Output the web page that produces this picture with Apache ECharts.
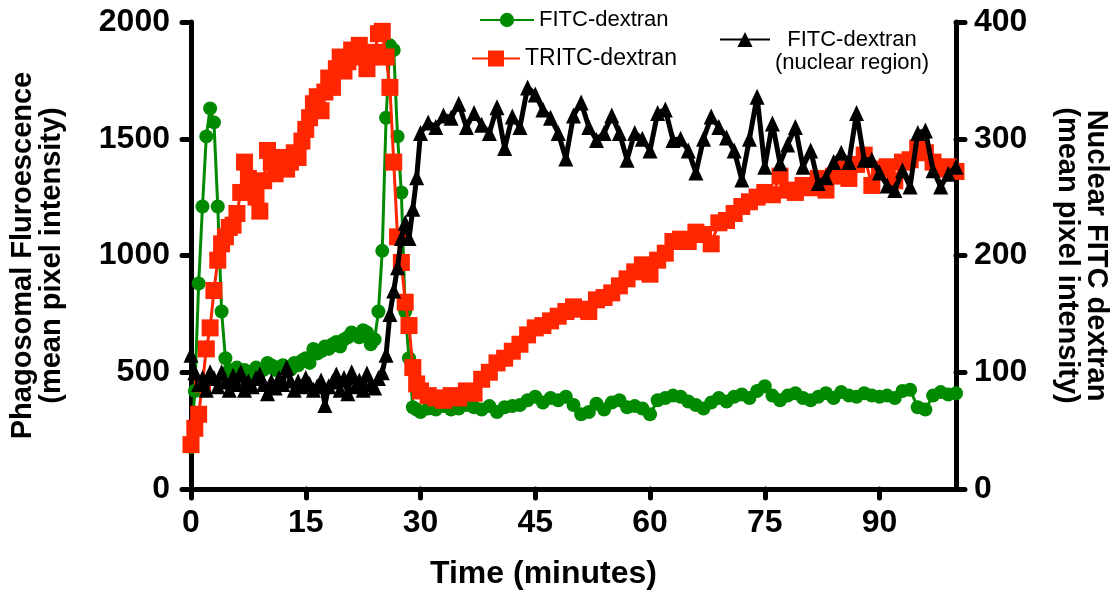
<!DOCTYPE html>
<html><head><meta charset="utf-8">
<script src="https://cdn.jsdelivr.net/npm/echarts@6/dist/echarts.min.js"></script>
<style>html,body{margin:0;padding:0;background:#fff}#c{width:1118px;height:600px}</style>
</head><body><div id="c"></div>
<script>
// Time points (minutes)
const timeMin = [
  0,0.5,1,1.5,2,2.5,3,3.5,4,4.5,
  5,5.5,6,6.5,7,7.5,8,8.5,9,9.5,
  10,10.5,11,11.5,12,12.5,13,13.5,14,14.5,
  15,15.5,16,16.5,17,17.5,18,18.5,19,19.5,
  20,20.5,21,21.5,22,22.5,23,23.5,24,24.5,
  25,25.5,26,26.5,27,27.5,28,28.5,29,29.5,
  30,
  31,32,33,34,35,36,37,38,39,40,
  41,42,43,44,45,46,47,48,49,50,
  51,52,53,54,55,56,57,58,59,60,
  61,62,63,64,65,66,67,68,69,70,
  71,72,73,74,75,76,77,78,79,80,
  81,82,83,84,85,86,87,88,89,90,
  91,92,93,94,95,96,97,98,99,100
];
// FITC-dextran (phagosomal, left axis)
const fitcDextran = [
  180,420,880,1210,1510,1630,1570,1210,760,560,
  510,500,520,490,510,500,490,520,500,510,
  540,530,510,520,530,520,510,540,530,550,
  560,540,600,580,590,610,600,620,630,610,
  640,650,670,660,650,680,670,620,640,760,
  1020,1590,1900,1880,1510,1270,760,560,350,340,
  330,
  345,340,355,340,345,360,350,340,355,330,
  350,355,360,380,395,370,390,380,395,360,
  320,330,365,340,370,380,350,355,345,320,
  380,390,400,395,375,360,345,370,390,375,
  395,405,390,420,440,400,380,400,410,390,
  380,395,410,390,415,400,395,410,400,395,
  400,390,420,425,350,340,400,415,405,410
];
// TRITC-dextran (phagosomal, left axis)
const tritcDextran = [
  190,260,320,450,600,690,850,980,1050,1080,
  1120,1130,1180,1270,1400,1330,1300,1250,1190,1320,
  1450,1400,1350,1410,1420,1370,1400,1440,1420,1490,
  1540,1590,1650,1680,1620,1700,1760,1720,1800,1850,
  1790,1830,1880,1860,1900,1850,1800,1850,1870,1950,
  1960,1850,1720,1400,1080,970,800,700,520,450,
  420,
  400,390,380,400,390,420,410,470,500,540,
  560,590,620,660,690,700,720,740,760,780,
  770,760,810,820,840,870,900,930,960,920,
  980,1010,1060,1070,1060,1100,1090,1050,1140,1150,
  1180,1210,1230,1250,1270,1260,1340,1280,1270,1300,
  1290,1330,1280,1340,1370,1330,1390,1430,1300,1370,
  1380,1320,1400,1410,1460,1440,1400,1370,1380,1360
];
// FITC-dextran, nuclear region (right axis)
const fitcNuclear = [
  115,100,90,95,85,100,95,88,100,92,
  85,97,90,100,85,92,88,95,98,90,
  82,92,87,95,90,104,93,85,92,88,
  95,90,85,88,93,72,88,92,98,85,
  95,82,100,88,93,85,99,90,87,95,
  100,115,150,170,190,215,228,215,240,267,
  305,
  314,310,320,318,330,310,322,312,305,327,
  292,319,310,344,338,325,318,305,283,320,
  331,310,299,305,320,305,282,305,300,290,
  322,325,299,300,290,271,300,319,310,301,
  290,265,300,336,276,313,279,295,310,276,
  290,262,267,280,288,280,322,282,282,271,
  260,256,273,259,305,307,273,259,270,276
];
const xTickValues = [0,15,30,45,60,75,90];
const seriesNames = ['FITC-dextran','TRITC-dextran','FITC-dextran (nuclear region)'];

const FONT = '"Liberation Sans", Arial, Helvetica, sans-serif';
const pair = arr => timeMin.map((t,i)=>[t, arr[i]]);
const plain = v => String(v);
const lineW = {color:'#000', width:5, cap:'round'};
const labelBase = {color:'#000', fontFamily:FONT, fontWeight:'bold', fontSize:32, formatter:plain};

const chart = echarts.init(document.getElementById('c'), null, {renderer:'canvas'});
chart.setOption({
  animation:false,
  backgroundColor:'#fff',
  grid:{left:188, right:160, top:22, bottom:111, containLabel:false},
  legend:[
    {data:[seriesNames[0]], left:474, top:4, itemWidth:54, itemHeight:18, itemGap:0,
     textStyle:{fontFamily:FONT, fontSize:22, color:'#000'}},
    {data:[seriesNames[1]], left:466, top:42, itemWidth:48, itemHeight:20, itemGap:0,
     textStyle:{fontFamily:FONT, fontSize:23, color:'#000'}},
    {data:[seriesNames[2]], left:714, top:24, itemWidth:50, itemHeight:19, itemGap:0,
     formatter:()=>'{a|FITC-dextran}\n{a|(nuclear region)}',
     textStyle:{fontFamily:FONT, fontSize:22, color:'#000', padding:[24,0,0,0],
       rich:{a:{fontFamily:FONT, fontSize:22, color:'#000', align:'center', lineHeight:23}}}}
  ],
  xAxis:{
    type:'value', min:0, max:100, interval:15,
    axisLine:{show:true, lineStyle:lineW},
    axisTick:{show:true, length:9, customValues:xTickValues, lineStyle:lineW},
    axisLabel:Object.assign({}, labelBase, {customValues:xTickValues, margin:18}),
    splitLine:{show:false},
    name:'Time (minutes)', nameLocation:'middle', nameGap:69,
    nameTextStyle:{fontFamily:FONT, fontWeight:'bold', fontSize:32, color:'#000', padding:[0,60,0,0]}
  },
  yAxis:[
    {
      type:'value', min:0, max:2000, interval:500, position:'left',
      axisLine:{show:true, lineStyle:lineW},
      axisTick:{show:true, length:9, lineStyle:lineW},
      axisLabel:Object.assign({}, labelBase, {margin:21}),
      splitLine:{show:false},
      name:'Phagosomal Fluroescence\n(mean pixel intensity)', nameLocation:'middle', nameRotate:90, nameGap:125,
      nameTextStyle:{fontFamily:FONT, fontWeight:'bold', fontSize:29, lineHeight:29, color:'#000'}
    },
    {
      type:'value', min:0, max:400, interval:100, position:'right',
      axisLine:{show:true, lineStyle:lineW},
      axisTick:{show:true, length:9, lineStyle:lineW},
      axisLabel:Object.assign({}, labelBase, {margin:18}),
      splitLine:{show:false},
      name:'Nuclear FITC dextran\n(mean pixel intensity)', nameLocation:'middle', nameRotate:-90, nameGap:96,
      nameTextStyle:{fontFamily:FONT, fontWeight:'bold', fontSize:29, lineHeight:29, color:'#000'}
    }
  ],
  series:[
    {name:seriesNames[0], type:'line', yAxisIndex:0, data:pair(fitcDextran),
     symbol:'circle', symbolSize:14, showAllSymbol:true,
     lineStyle:{color:'#008A00', width:3}, itemStyle:{color:'#008A00'}, z:2},
    {name:seriesNames[1], type:'line', yAxisIndex:0, data:pair(tritcDextran),
     symbol:'rect', symbolSize:17, showAllSymbol:true,
     lineStyle:{color:'#FF2600', width:3}, itemStyle:{color:'#FF2600'}, z:3},
    {name:seriesNames[2], type:'line', yAxisIndex:1, data:pair(fitcNuclear),
     symbol:'triangle', symbolSize:[15,16], showAllSymbol:true,
     lineStyle:{color:'#000', width:5}, itemStyle:{color:'#000'}, z:4}
  ]
});
</script>
</body></html>
